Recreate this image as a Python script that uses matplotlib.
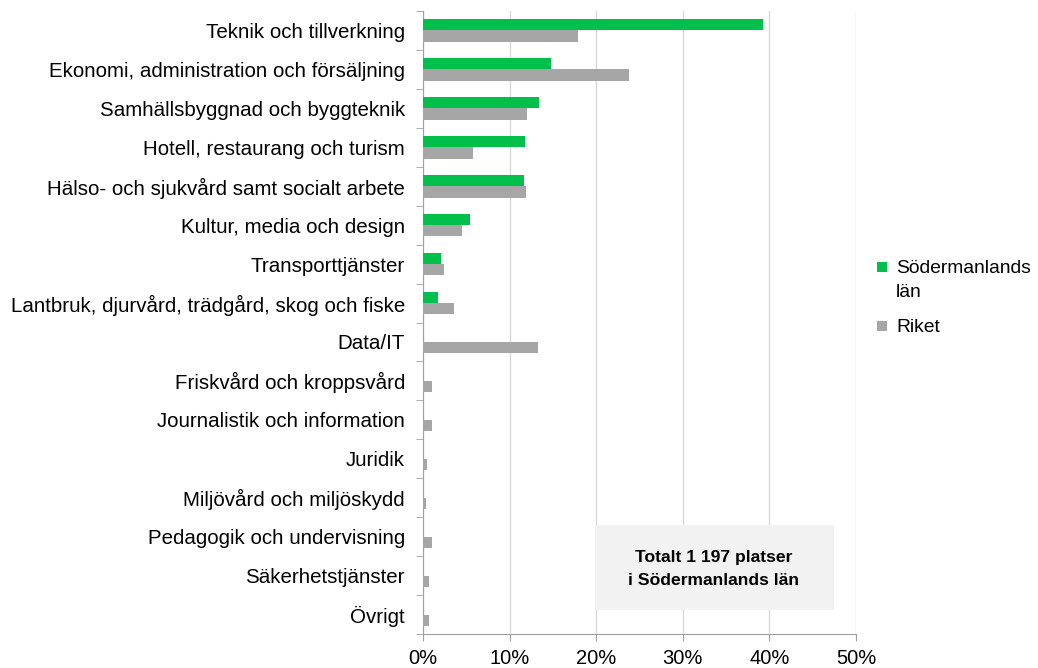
import matplotlib
matplotlib.use("Agg")
import matplotlib.pyplot as plt
import numpy as np
from matplotlib.ticker import FuncFormatter, FixedLocator
from matplotlib.patches import Rectangle

plt.rcParams['font.family'] = ['Liberation Sans', 'DejaVu Sans']

categories = [
    "Teknik och tillverkning",
    "Ekonomi, administration och försäljning",
    "Samhällsbyggnad och byggteknik",
    "Hotell, restaurang och turism",
    "Hälso- och sjukvård samt socialt arbete",
    "Kultur, media och design",
    "Transporttjänster",
    "Lantbruk, djurvård, trädgård, skog och fiske",
    "Data/IT",
    "Friskvård och kroppsvård",
    "Journalistik och information",
    "Juridik",
    "Miljövård och miljöskydd",
    "Pedagogik och undervisning",
    "Säkerhetstjänster",
    "Övrigt",
]
sodermanland = [39.3, 14.8, 13.4, 11.8, 11.7, 5.4, 2.1, 1.7, 0, 0, 0, 0, 0, 0, 0, 0]
riket = [17.9, 23.8, 12.0, 5.8, 11.9, 4.5, 2.4, 3.6, 13.3, 1.0, 1.0, 0.5, 0.3, 1.0, 0.7, 0.65]
series_names = ["Södermanlands\nlän", "Riket"]
box_text = "Totalt 1 197 platser\ni Södermanlands län"

green = "#00c04b"
grey = "#a6a6a6"

W, H = 1038, 668
fig = plt.figure(figsize=(W/100, H/100), dpi=100)
ax = fig.add_axes([423/W, 1-634/H, (856-423)/W, (634-11)/H])

n = len(categories)
y = np.arange(n)
h = 0.29
ax.barh(y - h/2, sodermanland, height=h, color=green, zorder=3)
ax.barh(y + h/2, riket, height=h, color=grey, zorder=3)

ax.set_ylim(n - 0.5, -0.5)
ax.set_xlim(0, 50)
ax.xaxis.set_major_locator(FixedLocator([0, 10, 20, 30, 40, 50]))
ax.xaxis.set_major_formatter(FuncFormatter(lambda v, p: f"{int(v)}%"))
ax.set_yticks(y)
ax.set_yticklabels(categories, fontsize=14.8)
ax.set_yticks(np.arange(-0.5, n, 1), minor=True)
ax.tick_params(axis='y', which='major', length=0, pad=13)
ax.tick_params(axis='y', which='minor', length=5, color='#a0a0a0', direction='out')
ax.tick_params(axis='x', which='major', length=5, color='#a0a0a0', direction='out', labelsize=14.5, pad=6)

ax.grid(axis='x', color='#d9d9d9', linewidth=1, zorder=0)
for s in ['top', 'right']:
    ax.spines[s].set_visible(False)
for s in ['left', 'bottom']:
    ax.spines[s].set_color('#a0a0a0')

# annotation box
fig.patches.append(Rectangle((595/W, 1-610/H), (834-595)/W, (610-525)/H,
                             transform=fig.transFigure, facecolor='#f2f2f2',
                             edgecolor='none', zorder=1))
fig.text(714/W, 1-569/H, box_text, ha='center', va='center', fontsize=12.6,
         fontweight='bold', linespacing=1.7, zorder=5)

# legend (manual)
legend_colors = [green, grey]
legend_y = [267, 326]
for c, ly, name in zip(legend_colors, legend_y, series_names):
    fig.patches.append(Rectangle((877/W, 1-(ly+5)/H), 10/W, 10/H,
                                 transform=fig.transFigure, facecolor=c,
                                 edgecolor='none'))
    fig.text(896/W, 1-(ly-7)/H, name, ha='left', va='top', fontsize=13.9,
             linespacing=1.5)

fig.savefig("out.png", dpi=100)
